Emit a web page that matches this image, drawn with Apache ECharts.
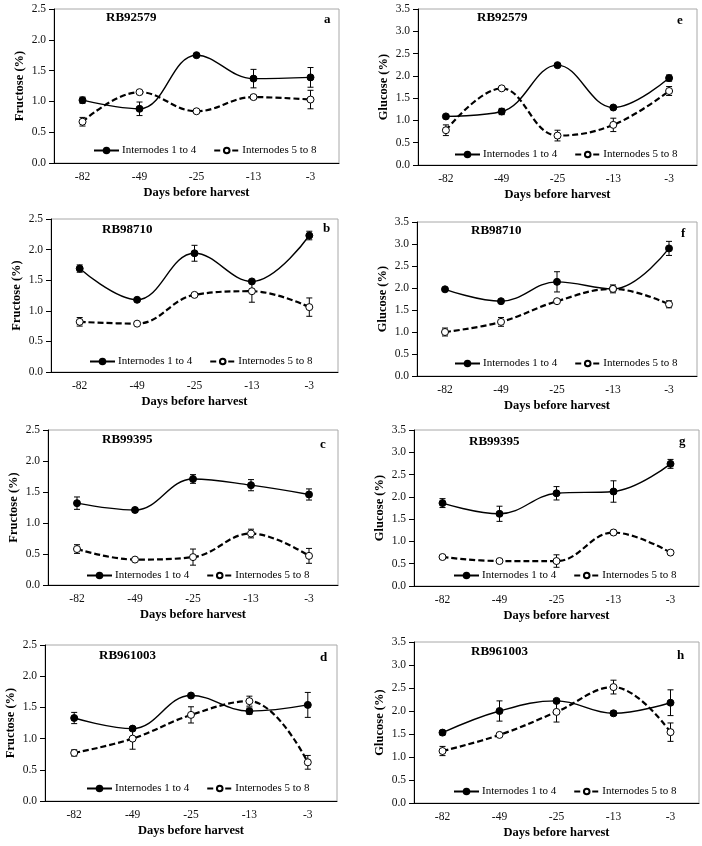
<!DOCTYPE html>
<html>
<head>
<meta charset="utf-8">
<script src="https://cdn.jsdelivr.net/npm/echarts@6/dist/echarts.min.js"></script>
<style>
  html, body { margin: 0; padding: 0; background: #fff; }
  #chart { width: 702px; height: 846px; }
</style>
</head>
<body>
<div id="chart"></div>
<script>
const days = ['-82', '-49', '-25', '-13', '-3'];
const seriesNames = ['Internodes 1 to 4', 'Internodes 5 to 8'];

// fructose, RB92579 (a)
const fruA1 = [1.02, 0.88, 1.75, 1.37, 1.39];
const fruA1Err = [0.05, 0.11, 0.02, 0.15, 0.16];
const fruA2 = [0.67, 1.15, 0.84, 1.07, 1.03];
const fruA2Err = [0.07, 0.02, 0.02, 0.03, 0.15];
// fructose, RB98710 (b)
const fruB1 = [1.69, 1.18, 1.94, 1.48, 2.23];
const fruB1Err = [0.06, 0.02, 0.13, 0.03, 0.07];
const fruB2 = [0.82, 0.79, 1.26, 1.32, 1.06];
const fruB2Err = [0.07, 0.02, 0.02, 0.18, 0.15];
// fructose, RB99395 (c)
const fruC1 = [1.32, 1.21, 1.71, 1.61, 1.46];
const fruC1Err = [0.10, 0.03, 0.07, 0.09, 0.09];
const fruC2 = [0.58, 0.41, 0.45, 0.83, 0.47];
const fruC2Err = [0.07, 0.03, 0.13, 0.07, 0.12];
// fructose, RB961003 (d)
const fruD1 = [1.33, 1.16, 1.69, 1.44, 1.54];
const fruD1Err = [0.09, 0.03, 0.02, 0.05, 0.20];
const fruD2 = [0.77, 1.00, 1.38, 1.60, 0.62];
const fruD2Err = [0.05, 0.17, 0.13, 0.08, 0.11];
// glucose, RB92579 (e)
const gluE1 = [1.09, 1.20, 2.24, 1.29, 1.95];
const gluE1Err = [0.03, 0.07, 0.03, 0.03, 0.07];
const gluE2 = [0.78, 1.72, 0.66, 0.90, 1.66];
const gluE2Err = [0.12, 0.03, 0.12, 0.15, 0.10];
// glucose, RB98710 (f)
const gluF1 = [1.97, 1.70, 2.14, 1.98, 2.90];
const gluF1Err = [0.04, 0.03, 0.23, 0.04, 0.16];
const gluF2 = [1.00, 1.23, 1.70, 1.98, 1.63];
const gluF2Err = [0.09, 0.10, 0.03, 0.09, 0.08];
// glucose, RB99395 (g)
const gluG1 = [1.86, 1.62, 2.08, 2.12, 2.74];
const gluG1Err = [0.10, 0.17, 0.15, 0.24, 0.10];
const gluG2 = [0.65, 0.56, 0.56, 1.20, 0.75];
const gluG2Err = [0.03, 0.03, 0.14, 0.05, 0.03];
// glucose, RB961003 (h)
const gluH1 = [1.53, 2.00, 2.22, 1.95, 2.18];
const gluH1Err = [0.05, 0.22, 0.04, 0.05, 0.28];
const gluH2 = [1.13, 1.48, 1.98, 2.52, 1.54];
const gluH2Err = [0.10, 0.03, 0.22, 0.15, 0.20];

const panels = [
  { letter: 'a', variety: 'RB92579', yName: 'Fructose (%)', yMax: 2.5, s1: fruA1, e1: fruA1Err, s2: fruA2, e2: fruA2Err,
    grid: [54, 9, 285, 154], title: [106, 11], tag: [324, 13], legend: [93, 145] },
  { letter: 'b', variety: 'RB98710', yName: 'Fructose (%)', yMax: 2.5, s1: fruB1, e1: fruB1Err, s2: fruB2, e2: fruB2Err,
    grid: [51, 219, 287, 153], title: [102, 223], tag: [323, 222], legend: [89, 356] },
  { letter: 'c', variety: 'RB99395', yName: 'Fructose (%)', yMax: 2.5, s1: fruC1, e1: fruC1Err, s2: fruC2, e2: fruC2Err,
    grid: [48, 430, 290, 155], title: [102, 433], tag: [320, 438], legend: [86, 570] },
  { letter: 'd', variety: 'RB961003', yName: 'Fructose (%)', yMax: 2.5, s1: fruD1, e1: fruD1Err, s2: fruD2, e2: fruD2Err,
    grid: [45, 645, 292, 156], title: [99, 649], tag: [320, 651], legend: [86, 783] },
  { letter: 'e', variety: 'RB92579', yName: 'Glucose (%)', yMax: 3.5, s1: gluE1, e1: gluE1Err, s2: gluE2, e2: gluE2Err,
    grid: [418, 9, 279, 156], title: [477, 11], tag: [677, 14], legend: [454, 149] },
  { letter: 'f', variety: 'RB98710', yName: 'Glucose (%)', yMax: 3.5, s1: gluF1, e1: gluF1Err, s2: gluF2, e2: gluF2Err,
    grid: [417, 222, 280, 154], title: [471, 224], tag: [681, 227], legend: [454, 358] },
  { letter: 'g', variety: 'RB99395', yName: 'Glucose (%)', yMax: 3.5, s1: gluG1, e1: gluG1Err, s2: gluG2, e2: gluG2Err,
    grid: [414, 430, 285, 156], title: [469, 435], tag: [679, 435], legend: [453, 570] },
  { letter: 'h', variety: 'RB961003', yName: 'Glucose (%)', yMax: 3.5, s1: gluH1, e1: gluH1Err, s2: gluH2, e2: gluH2Err,
    grid: [414, 642, 285, 161], title: [471, 645], tag: [677, 649], legend: [453, 786] },
];

const font = '"Liberation Serif", "Times New Roman", serif';

function errItem(params, api) {
  const x = api.value(0);
  const lo = api.coord([x, api.value(1)]);
  const hi = api.coord([x, api.value(2)]);
  const w = 3;
  const st = { stroke: '#000', lineWidth: 1 };
  return {
    type: 'group',
    children: [
      { type: 'line', shape: { x1: lo[0], y1: lo[1], x2: hi[0], y2: hi[1] }, style: st },
      { type: 'line', shape: { x1: lo[0] - w, y1: lo[1], x2: lo[0] + w, y2: lo[1] }, style: st },
      { type: 'line', shape: { x1: hi[0] - w, y1: hi[1], x2: hi[0] + w, y2: hi[1] }, style: st },
    ],
  };
}

const grids = [], xAxes = [], yAxes = [], titles = [], legends = [], series = [];

panels.forEach((p, i) => {
  grids.push({
    left: p.grid[0], top: p.grid[1], width: p.grid[2], height: p.grid[3],
    show: true, borderColor: '#a8a8a8', borderWidth: 1, backgroundColor: 'transparent',
  });
  xAxes.push({
    gridIndex: i, type: 'category', data: days,
    name: 'Days before harvest', nameLocation: 'middle', nameGap: 23,
    nameTextStyle: { fontFamily: font, fontWeight: 'bold', fontSize: 12.5, color: '#000' },
    axisLine: { lineStyle: { color: '#000', width: 1 } },
    axisTick: { length: 5, lineStyle: { color: '#000' } },
    axisLabel: { fontFamily: font, fontSize: 11.5, color: '#111', margin: 8 },
    splitLine: { show: false },
  });
  yAxes.push({
    gridIndex: i, type: 'value', min: 0, max: p.yMax, interval: 0.5,
    name: p.yName, nameLocation: 'middle', nameGap: 28, nameRotate: 90,
    nameTextStyle: { fontFamily: font, fontWeight: 'bold', fontSize: 12.5, color: '#000' },
    axisLine: { show: true, lineStyle: { color: '#000', width: 1 } },
    axisTick: { show: true, length: 5, lineStyle: { color: '#000' } },
    axisLabel: { fontFamily: font, fontSize: 11.5, color: '#111', margin: 8, formatter: (v) => v.toFixed(1) },
    splitLine: { show: false },
  });
  titles.push({
    text: p.variety, left: p.title[0], top: p.title[1], padding: 0,
    textStyle: { fontFamily: font, fontWeight: 'bold', fontSize: 13, color: '#000' },
  });
  titles.push({
    text: p.letter, left: p.tag[0], top: p.tag[1], padding: 0,
    textStyle: { fontFamily: font, fontWeight: 'bold', fontSize: 13, color: '#000' },
  });
  legends.push({
    data: seriesNames, left: p.legend[0], top: p.legend[1], padding: 0,
    itemWidth: 25, itemHeight: 7, itemGap: 17, selectedMode: false,
    textStyle: { fontFamily: font, fontSize: 11, color: '#000', padding: [0, 0, 0, -2] },
  });

  const pairs = [
    { name: seriesNames[0], vals: p.s1, errs: p.e1, fill: '#000', dash: 'solid', width: 1.4 },
    { name: seriesNames[1], vals: p.s2, errs: p.e2, fill: '#fff', dash: [6, 3], width: 2.2 },
  ];
  pairs.forEach((s) => {
    series.push({
      name: 'err', type: 'custom', xAxisIndex: i, yAxisIndex: i, z: 2,
      renderItem: errItem, encode: { x: 0, y: [1, 2] },
      data: s.vals.map((v, k) => [k, v - s.errs[k], v + s.errs[k]]),
      silent: true,
    });
    series.push({
      name: s.name, type: 'line', xAxisIndex: i, yAxisIndex: i, z: 3,
      data: s.vals, smooth: 0.4, symbol: 'circle', symbolSize: 7, showSymbol: true,
      lineStyle: { color: '#000', width: s.width, type: s.dash },
      itemStyle: { color: s.fill, borderColor: '#000', borderWidth: 1 },
      animation: false,
    });
  });
});

const chart = echarts.init(document.getElementById('chart'), null, { renderer: 'canvas' });
chart.setOption({
  animation: false,
  backgroundColor: '#fff',
  title: titles,
  legend: legends,
  grid: grids,
  xAxis: xAxes,
  yAxis: yAxes,
  series: series,
});
</script>
</body>
</html>
